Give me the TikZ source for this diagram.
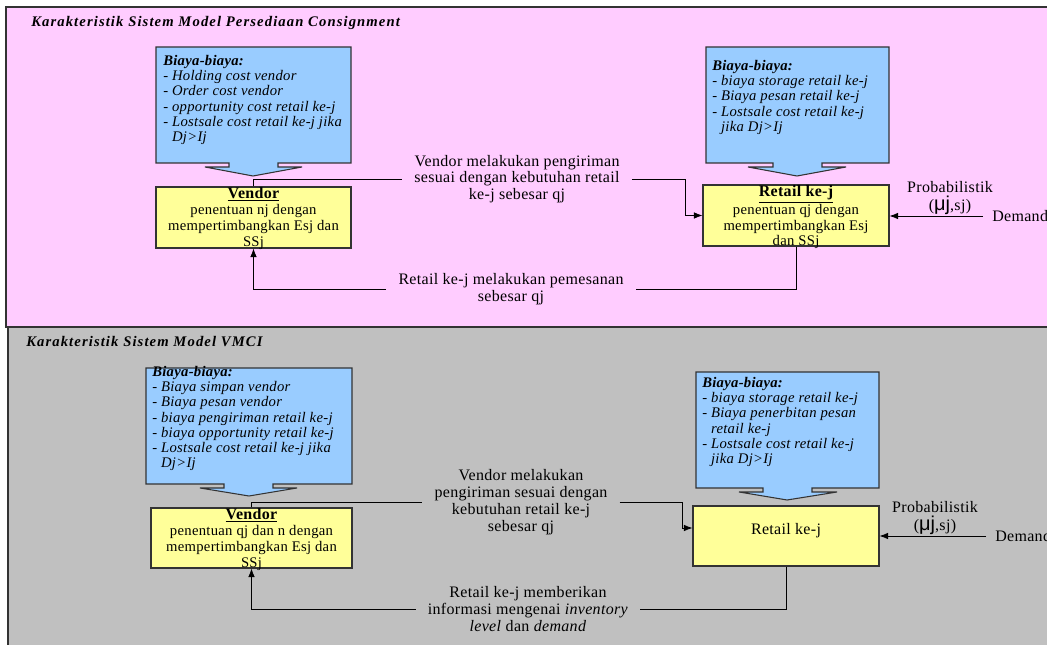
\documentclass[tikz,border=0pt]{standalone}
\usepackage{fontspec}
\setmainfont{Liberation Serif}[LetterSpace=2]
\newfontfamily\titlefont{Liberation Serif}[LetterSpace=7.5]
\newfontfamily\greekfont{Liberation Sans}
\usepackage{tikz}
\usetikzlibrary{arrows.meta,calc,fit}

\newcommand{\boxhead}[1]{{\fontsize{12}{13}\selectfont\bfseries\underline{#1}}}

\begin{document}
\begin{tikzpicture}[x  = {(0.75pt,0pt)},
                    y  = {(0pt,-0.75pt)},
                    >  = {Latex[length=6.5pt,width=5pt]}]


  % COLORS
  \definecolor{pinkpanel}{rgb}{ 1,0.8,1 }
  \definecolor{graypanel}{rgb}{ 0.753,0.753,0.753 }
  \definecolor{costcolor}{rgb}{ 0.6,0.8,1 }
  \definecolor{unitcolor}{rgb}{ 1,1,0.6 }
  \definecolor{edgecolor}{rgb}{ 0.2,0.2,0.2 }


  % STYLES
  \tikzstyle{panelstyle} = [draw=edgecolor, line width=1.2pt]
  \tikzstyle{coststyle} = [fill=costcolor, draw=edgecolor, line width=0.8pt, line join=miter]
  \tikzstyle{costtext} = [anchor=north west, inner sep=0pt, align=left, font=\fontsize{11}{11.4}\selectfont\itshape]
  \tikzstyle{unitstyle} = [draw=edgecolor, fill=unitcolor, line width=0.8pt, inner sep=0pt, align=center, font=\fontsize{12}{13}\selectfont]
  \tikzstyle{unittext} = [anchor=north, inner xsep=0pt, inner ysep=0.6pt, align=center, font=\fontsize{11}{11.9}\selectfont]
  \tikzstyle{labeltext} = [inner xsep=9pt, inner ysep=0pt, align=center, font=\fontsize{12}{12.6}\selectfont]
  \tikzstyle{probtext} = [inner sep=0pt, align=center, font=\fontsize{12}{13.5}\selectfont]
  \tikzstyle{titletext} = [anchor=base west, inner sep=0pt, font=\titlefont\fontsize{11}{12}\selectfont\bfseries\itshape]
  \tikzstyle{flowstyle} = [draw=black, line width=0.6pt]

  \clip (0,0) rectangle (1047,645);


  % PANELS
  \draw[panelstyle, fill=graypanel] (8,327) rectangle (1080,680);
  \draw[panelstyle, fill=pinkpanel] (6,7) rectangle (1080,327);

  \node[titletext] (title1) at (31,27) {Karakteristik Sistem Model Persediaan Consignment};
  \node[titletext] (title2) at (26,347) {Karakteristik Sistem Model VMCI};


  % COST CALLOUTS (consignment)
  \draw[coststyle] (156,47) -- (351,47) -- (351,163) -- (278,163) -- (278,167) -- (302,167) -- (253,176) -- (205,167) -- (229,167) -- (229,163) -- (156,163) -- cycle;
  \draw[coststyle] (706,47) -- (889,47) -- (889,163) -- (822,163) -- (822,167) -- (846,167) -- (797,176) -- (748,167) -- (773,167) -- (773,163) -- (706,163) -- cycle;

  \node[costtext] (cost1) at (163,55) {\textbf{Biaya-biaya:}\\- Holding cost vendor\\- Order cost vendor\\- opportunity cost retail ke-j\\- Lostsale cost retail ke-j jika\\\phantom{- }Dj>Ij};
  \node[costtext] (cost2) at (712,60) {\textbf{Biaya-biaya:}\\- biaya storage retail ke-j\\- Biaya pesan retail ke-j\\- Lostsale cost retail ke-j\\\phantom{- }jika Dj>Ij};


  % UNITS (consignment)
  \node[unitstyle, fit={(156,187) (351,248)}] (vendor1) {};
  \node[unittext] (vendor1text) at (vendor1.north) {\boxhead{Vendor}\\penentuan nj dengan\\mempertimbangkan Esj dan\\SSj};
  \node[unitstyle, fit={(703,185) (889,246)}] (retail1) {};
  \node[unittext] (retail1text) at (retail1.north) {\boxhead{Retail ke-j}\\penentuan qj dengan\\mempertimbangkan Esj\\dan SSj};


  % FLOWS (consignment)
  \node[labeltext] (ship1) at (517,179) {Vendor melakukan pengiriman\\sesuai dengan kebutuhan retail\\ke-j sebesar qj};
  \node[labeltext] (order1) at (511,289) {Retail ke-j melakukan pemesanan\\sebesar qj};
  \node[labeltext, anchor=west, inner xsep=6.75pt] (demand1) at (983,216) {Demand};
  \node[probtext] (prob1) at (950,198) {Probabilistik\\({\greekfont\fontsize{15}{14}\selectfont μj},sj)};

  \draw[flowstyle] (vendor1.north) |- (ship1.west);
  \draw[flowstyle, ->] (ship1.east) -- ++(54,0) |- (retail1.west);
  \draw[flowstyle] (retail1.south) |- (order1.east);
  \draw[flowstyle, ->] (order1.west) -| (vendor1.south);
  \draw[flowstyle, ->] (demand1.west) -- (demand1.west -| retail1.east);


  % COST CALLOUTS (VMCI)
  \draw[coststyle] (146,368) -- (352,368) -- (352,484) -- (273,484) -- (273,488) -- (297,488) -- (249,496) -- (200,488) -- (224,488) -- (224,484) -- (146,484) -- cycle;
  \draw[coststyle] (696,372) -- (879,372) -- (879,488) -- (812,488) -- (812,492) -- (837,492) -- (787,500) -- (739,492) -- (763,492) -- (763,488) -- (696,488) -- cycle;

  \node[costtext] (cost3) at (152,366) {\textbf{Biaya-biaya:}\\- Biaya simpan vendor\\- Biaya pesan vendor\\- biaya pengiriman retail ke-j\\- biaya opportunity retail ke-j\\- Lostsale cost retail ke-j jika\\\phantom{- }Dj>Ij};
  \node[costtext] (cost4) at (702,377) {\textbf{Biaya-biaya:}\\- biaya storage retail ke-j\\- Biaya penerbitan pesan\\\phantom{- }retail ke-j\\- Lostsale cost retail ke-j\\\phantom{- }jika Dj>Ij};


  % UNITS (VMCI)
  \node[unitstyle, fit={(151,508) (352,568)}] (vendor2) {};
  \node[unittext] (vendor2text) at (vendor2.north) {\boxhead{Vendor}\\penentuan qj dan n dengan\\mempertimbangkan Esj dan\\SSj};
  \node[unitstyle, fit={(693,506) (879,566)}] (retail2) {Retail ke-j};


  % FLOWS (VMCI)
  \node[labeltext] (ship2) at (521,502) {Vendor melakukan\\pengiriman sesuai dengan\\kebutuhan retail ke-j\\sebesar qj};
  \node[labeltext] (info2) at (528,609) {Retail ke-j memberikan\\informasi mengenai \textit{inventory}\\\textit{level} dan \textit{demand}};
  \node[labeltext, anchor=west, inner xsep=6.75pt] (demand2) at (986,536) {Demand};
  \node[probtext] (prob2) at (935,518) {Probabilistik\\({\greekfont\fontsize{15}{14}\selectfont μj},sj)};

  \draw[flowstyle] (vendor2.north) |- (ship2.west);
  \draw[flowstyle, ->] (ship2.east) -- ++(63,0) |- ($(retail2.west)+(0,-8)$);
  \draw[flowstyle] (retail2.south) |- (info2.east);
  \draw[flowstyle, ->] (info2.west) -| (vendor2.south);
  \draw[flowstyle, ->] (demand2.west) -- (demand2.west -| retail2.east);

\end{tikzpicture}
\end{document}
